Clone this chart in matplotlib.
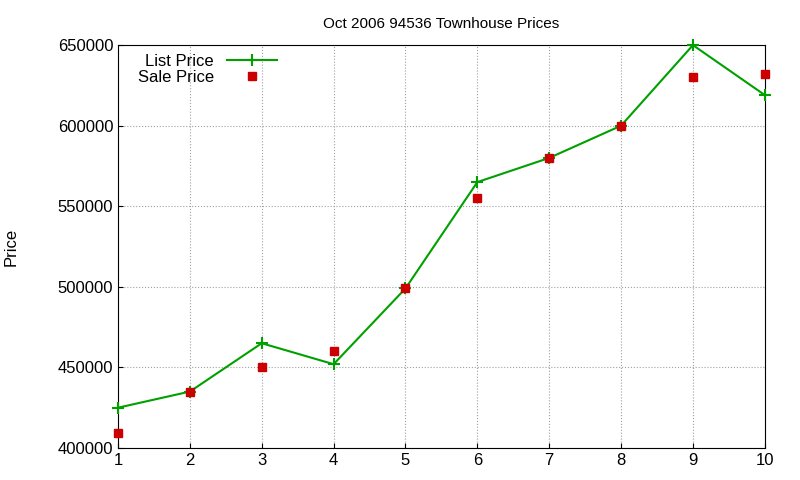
import matplotlib
matplotlib.use("Agg")
import matplotlib.pyplot as plt

x = [1, 2, 3, 4, 5, 6, 7, 8, 9, 10]
list_price = [425000, 435000, 465000, 452000, 499000, 565000, 580000, 600000, 650000, 619000]
sale_price = [409000, 435000, 450000, 460000, 499000, 555000, 580000, 600000, 630000, 632000]
yticks = [400000, 450000, 500000, 550000, 600000, 650000]

plt.rcParams['font.family'] = ['Liberation Sans', 'DejaVu Sans']
fig = plt.figure(figsize=(8, 4.8), dpi=100)
ax = fig.add_axes([0.1475, 0.0667, 0.8085, 0.8393])
ax.plot(x, list_price, color='#00a000', lw=1.5, marker='+', ms=8, mew=1.5, label='List Price', clip_on=False, zorder=3)
ax.plot(x, sale_price, ls='none', color='#cc0000', marker='s', ms=6, label='Sale Price', clip_on=False, zorder=4)
ax.set_xlim(1, 10)
ax.set_ylim(400000, 650000)
ax.set_xticks(x)
ax.set_yticks(yticks)
ax.tick_params(labelsize=12, direction='in')
ax.grid(True, color='#a0a0a0', ls=':', lw=0.8)
ax.set_ylabel('Price', fontsize=12, labelpad=28)
ax.set_title('Oct 2006 94536 Townhouse Prices', fontsize=11, pad=12)
ax.legend(loc='upper left', markerfirst=False, frameon=False, fontsize=12,
          bbox_to_anchor=(0.02, 0.995), handlelength=3, borderaxespad=0, labelspacing=0.05)
fig.savefig('out.png')
